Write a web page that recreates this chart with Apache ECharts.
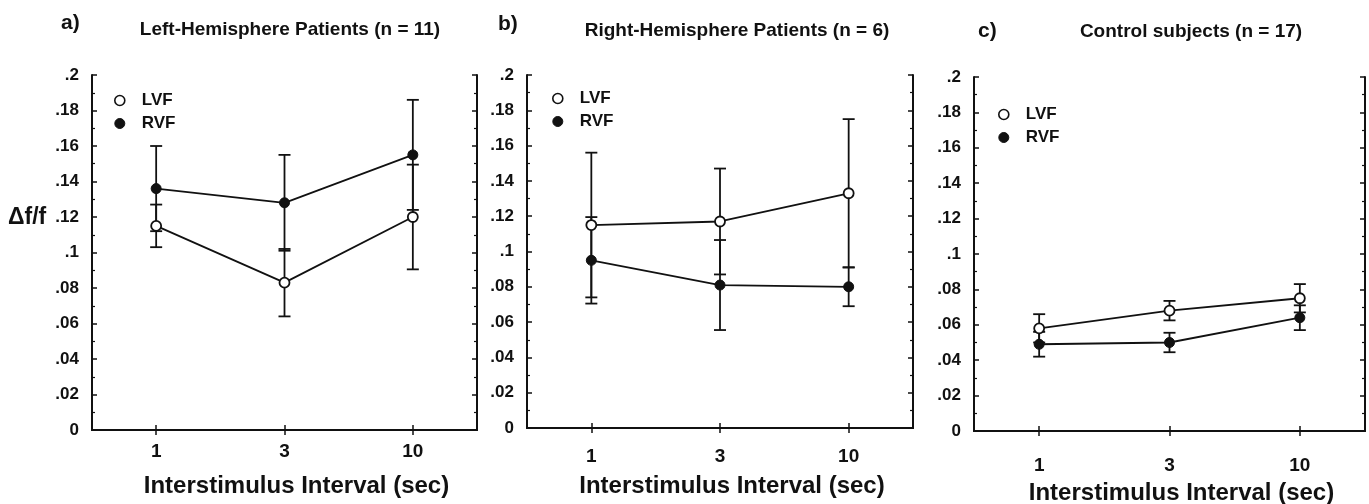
<!DOCTYPE html>
<html>
<head>
<meta charset="utf-8">
<script src="https://cdn.jsdelivr.net/npm/echarts@6/dist/echarts.min.js"></script>
<style>
  html, body { margin: 0; padding: 0; background: #fff; }
  #chart { width: 1369px; height: 504px; }
</style>
</head>
<body>
<div id="chart"></div>
<script>
// interstimulus intervals (sec)
const categories = ['1', '3', '10'];

// a) left-hemisphere patients
const leftLVF = [0.115, 0.083, 0.120];
const leftLVFErr = [0.012, 0.019, 0.0295];
const leftRVF = [0.136, 0.128, 0.155];
const leftRVFErr = [0.024, 0.027, 0.031];

// b) right-hemisphere patients
const rightLVF = [0.115, 0.117, 0.133];
const rightLVFErr = [0.041, 0.030, 0.042];
const rightRVF = [0.095, 0.081, 0.080];
const rightRVFErr = [0.0245, 0.0255, 0.011];

// c) control subjects
const ctrlLVF = [0.058, 0.068, 0.075];
const ctrlLVFErr = [0.008, 0.0055, 0.008];
const ctrlRVF = [0.049, 0.050, 0.064];
const ctrlRVFErr = [0.007, 0.0055, 0.007];

const panelTitles = [
  'Left-Hemisphere Patients (n = 11)',
  'Right-Hemisphere Patients (n = 6)',
  'Control subjects (n = 17)'
];
const panelLetters = ['a)', 'b)', 'c)'];
const xName = 'Interstimulus Interval (sec)';

const FONT = '"Liberation Sans", Arial, Helvetica, sans-serif';
const INK = '#111';

const chart = echarts.init(document.getElementById('chart'));

// layout per panel
const grids = [
  { left: 92, top: 75, width: 385, height: 355, outerBoundsMode: 'none' },
  { left: 527, top: 75, width: 386, height: 353, outerBoundsMode: 'none' },
  { left: 974, top: 77, width: 391, height: 354, outerBoundsMode: 'none' }
];
const labelMargins = [12, 19, 25];
const nameGaps = [44, 46, 50];
const legendPos = [
  { left: 109, top: 87 },
  { left: 547, top: 85 },
  { left: 993, top: 101 }
];
const panels = [
  { lvf: leftLVF, lvfErr: leftLVFErr, rvf: leftRVF, rvfErr: leftRVFErr },
  { lvf: rightLVF, lvfErr: rightLVFErr, rvf: rightRVF, rvfErr: rightRVFErr },
  { lvf: ctrlLVF, lvfErr: ctrlLVFErr, rvf: ctrlRVF, rvfErr: ctrlRVFErr }
];

const xAxes = [];
const yAxes = [];
const series = [];
const legends = [];

// error bar drawn as vertical line with caps
function errorBarItem(params, api) {
  const x = api.value(0);
  const mean = api.value(1);
  const err = api.value(2);
  const hi = api.coord([x, mean + err]);
  const lo = api.coord([x, mean - err]);
  const cap = 6;
  const style = { stroke: INK, lineWidth: 1.8 };
  return {
    type: 'group',
    children: [
      { type: 'line', shape: { x1: hi[0], y1: hi[1], x2: lo[0], y2: lo[1] }, style },
      { type: 'line', shape: { x1: hi[0] - cap, y1: hi[1], x2: hi[0] + cap, y2: hi[1] }, style },
      { type: 'line', shape: { x1: lo[0] - cap, y1: lo[1], x2: lo[0] + cap, y2: lo[1] }, style }
    ]
  };
}

grids.forEach((g, i) => {
  const axisLine = { show: true, lineStyle: { color: INK, width: 2 } };
  // bottom + top category axes
  xAxes.push({
    type: 'category', gridIndex: i, position: 'bottom', data: categories,
    boundaryGap: true,
    axisLine,
    axisTick: { show: true, inside: true, alignWithLabel: true, length: 5, lineStyle: { color: INK, width: 1.5 } },
    axisLabel: { margin: labelMargins[i], fontFamily: FONT, fontSize: 19, fontWeight: 'bold', color: INK },
    name: xName, nameLocation: 'middle', nameGap: nameGaps[i],
    nameTextStyle: { fontFamily: FONT, fontSize: 24, fontWeight: 'bold', color: INK, padding: [0, 0, 0, 24] },
    splitLine: { show: false }
  });
  xAxes.push({
    type: 'category', gridIndex: i, position: 'top', data: categories,
    boundaryGap: true,
    axisLine,
    axisTick: { show: true, inside: true, alignWithLabel: true, length: 5, lineStyle: { color: INK, width: 1.5 } },
    axisLabel: { show: false },
    splitLine: { show: false }
  });
  // left + right value axes
  const yCommon = {
    type: 'value', gridIndex: i, min: 0, max: 0.2, interval: 0.02,
    axisLine,
    axisTick: { show: true, inside: true, length: 5, lineStyle: { color: INK, width: 1.5 } },
    minorTick: { show: true, splitNumber: 2, length: 3, lineStyle: { color: INK, width: 1.2 } },
    splitLine: { show: false },
    minorSplitLine: { show: false }
  };
  yAxes.push(Object.assign({}, yCommon, {
    position: 'left',
    axisLabel: {
      margin: 13, fontFamily: FONT, fontSize: 17, fontWeight: 'bold', color: INK,
      formatter: v => {
        const r = Number(v.toFixed(2));
        return r === 0 ? '0' : String(r).replace(/^0/, '');
      }
    }
  }));
  yAxes.push(Object.assign({}, yCommon, {
    position: 'right',
    axisLabel: { show: false }
  }));

  const p = panels[i];
  const xb = i * 2;
  const yl = i * 2;

  series.push({
    type: 'custom', name: 'LVF err', xAxisIndex: xb, yAxisIndex: yl, z: 1,
    renderItem: errorBarItem,
    encode: { x: 0, y: 1 },
    data: p.lvf.map((v, k) => [k, v, p.lvfErr[k]]),
    silent: true
  });
  series.push({
    type: 'custom', name: 'RVF err', xAxisIndex: xb, yAxisIndex: yl, z: 1,
    renderItem: errorBarItem,
    encode: { x: 0, y: 1 },
    data: p.rvf.map((v, k) => [k, v, p.rvfErr[k]]),
    silent: true
  });
  series.push({
    type: 'line', name: 'LVF', xAxisIndex: xb, yAxisIndex: yl, z: 3,
    data: p.lvf,
    symbol: 'circle', symbolSize: 10,
    lineStyle: { color: INK, width: 1.8 },
    itemStyle: { color: '#fff', borderColor: INK, borderWidth: 1.8 }
  });
  series.push({
    type: 'line', name: 'RVF', xAxisIndex: xb, yAxisIndex: yl, z: 3,
    data: p.rvf,
    symbol: 'circle', symbolSize: 10,
    lineStyle: { color: INK, width: 1.8 },
    itemStyle: { color: INK, borderColor: INK, borderWidth: 1 }
  });

  legends.push({
    orient: 'vertical',
    left: legendPos[i].left, top: legendPos[i].top,
    itemWidth: 34, itemHeight: 10, itemGap: 6,
    selectedMode: false,
    textStyle: { fontFamily: FONT, fontSize: 17, fontWeight: 'bold', color: INK },
    data: [
      { name: 'LVF', icon: 'circle', itemStyle: { color: '#fff', borderColor: INK, borderWidth: 1.6 } },
      { name: 'RVF', icon: 'circle', itemStyle: { color: INK, borderColor: INK, borderWidth: 1 } }
    ]
  });
});

const graphics = [
  { type: 'text', left: 61, top: 13, style: { text: panelLetters[0], font: 'bold 21px ' + FONT, fill: INK } },
  { type: 'text', left: 498, top: 14, style: { text: panelLetters[1], font: 'bold 21px ' + FONT, fill: INK } },
  { type: 'text', left: 978, top: 21, style: { text: panelLetters[2], font: 'bold 21px ' + FONT, fill: INK } },
  { type: 'text', x: 290, y: 30, style: { text: panelTitles[0], font: 'bold 19px ' + FONT, fill: INK, textAlign: 'center', textVerticalAlign: 'middle' } },
  { type: 'text', x: 737, y: 31, style: { text: panelTitles[1], font: 'bold 19px ' + FONT, fill: INK, textAlign: 'center', textVerticalAlign: 'middle' } },
  { type: 'text', x: 1191, y: 32, style: { text: panelTitles[2], font: 'bold 19px ' + FONT, fill: INK, textAlign: 'center', textVerticalAlign: 'middle' } },
  { type: 'text', x: 8, y: 218, style: { text: '\u0394f/f', font: 'bold 23px ' + FONT, fill: INK, textAlign: 'left', textVerticalAlign: 'middle' } }
];

const option = {
  animation: false,
  backgroundColor: '#fff',
  grid: grids,
  xAxis: xAxes,
  yAxis: yAxes,
  legend: legends,
  graphic: graphics,
  series: series
};

chart.setOption(option);
</script>
</body>
</html>
